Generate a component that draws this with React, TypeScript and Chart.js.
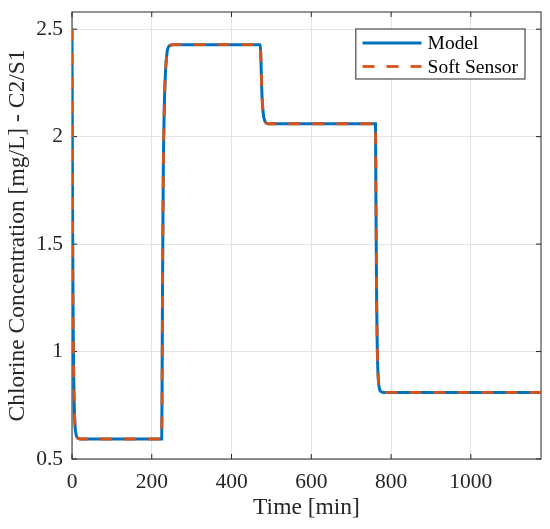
import { useEffect, useRef } from 'react';
import { Chart, registerables } from 'chart.js';

Chart.register(...registerables);

const FONT = '"Liberation Serif", "Times New Roman", serif';
const INK = '#262626';
const BLUE = '#0072BD';
const ORANGE = '#D95319';

// time [min] and chlorine concentration [mg/L]
const timeMin = [
  0, 1, 2, 3, 4, 5, 6.5, 8, 10, 13, 17, 22,
  225, 226, 227, 228, 229, 230, 231, 232, 233, 235, 237, 239, 242, 247, 255,
  472, 473, 474, 475, 476, 477, 478, 480, 483, 487, 492,
  761, 762, 763, 764, 765, 766, 767, 768.5, 770.5, 773, 777, 782,
  1176
];
const modelConc = [
  2.5, 1.85, 1.4, 1.1, 0.92, 0.8, 0.7, 0.645, 0.615, 0.6, 0.595, 0.593,
  0.593, 0.9, 1.3, 1.6, 1.85, 2.0, 2.1, 2.18, 2.24, 2.32, 2.37, 2.4, 2.418, 2.426, 2.428,
  2.428, 2.4, 2.34, 2.27, 2.21, 2.17, 2.14, 2.1, 2.075, 2.063, 2.06,
  2.06, 1.75, 1.45, 1.22, 1.07, 0.97, 0.91, 0.86, 0.83, 0.817, 0.811, 0.81,
  0.81
];
const softSensorConc = [
  2.5, 1.85, 1.4, 1.1, 0.92, 0.8, 0.7, 0.645, 0.615, 0.6, 0.595, 0.593,
  0.593, 0.9, 1.3, 1.6, 1.85, 2.0, 2.1, 2.18, 2.24, 2.32, 2.37, 2.4, 2.418, 2.426, 2.428,
  2.428, 2.4, 2.34, 2.27, 2.21, 2.17, 2.14, 2.1, 2.075, 2.063, 2.06,
  2.06, 1.75, 1.45, 1.22, 1.07, 0.97, 0.91, 0.86, 0.83, 0.817, 0.811, 0.81,
  0.81
];

const seriesLabels = ['Model', 'Soft Sensor'];
const xTicks = [0, 200, 400, 600, 800, 1000];
const yTicks = [0.5, 1, 1.5, 2, 2.5];

// matlab-like box with inward ticks, drawn under the lines
const axesBox = {
  id: 'axesBox',
  beforeDatasetsDraw(chart: any) {
    const { ctx, chartArea, scales } = chart;
    const { left, right, top, bottom } = chartArea;
    ctx.save();
    ctx.strokeStyle = INK;
    ctx.lineWidth = 1;
    ctx.strokeRect(left, top, right - left, bottom - top);
    ctx.beginPath();
    scales.x.ticks.forEach((t: any) => {
      const x = scales.x.getPixelForValue(t.value);
      ctx.moveTo(x, bottom);
      ctx.lineTo(x, bottom - 5);
      ctx.moveTo(x, top);
      ctx.lineTo(x, top + 5);
    });
    scales.y.ticks.forEach((t: any) => {
      const y = scales.y.getPixelForValue(t.value);
      ctx.moveTo(left, y);
      ctx.lineTo(left + 5, y);
      ctx.moveTo(right, y);
      ctx.lineTo(right - 5, y);
    });
    ctx.stroke();
    ctx.restore();
  }
};

// boxed legend in the top right corner
const boxLegend = {
  id: 'boxLegend',
  afterDraw(chart: any) {
    const { ctx, chartArea } = chart;
    const datasets = chart.data.datasets;
    ctx.save();
    ctx.font = `19.5px ${FONT}`;
    const textW = Math.max(...datasets.map((d: any) => ctx.measureText(d.label).width));
    const sample = 59;
    const w = 6.7 + sample + 6 + textW + 7;
    const h = 50;
    const x0 = chartArea.right - 16 - w;
    const y0 = chartArea.top + 17;
    ctx.fillStyle = '#fff';
    ctx.fillRect(x0, y0, w, h);
    ctx.strokeStyle = INK;
    ctx.lineWidth = 1;
    ctx.strokeRect(x0, y0, w, h);
    datasets.forEach((d: any, i: number) => {
      const cy = y0 + 14 + i * 23.5;
      ctx.beginPath();
      ctx.strokeStyle = d.borderColor;
      ctx.lineWidth = d.borderWidth;
      ctx.setLineDash(d.borderDash || []);
      ctx.moveTo(x0 + 6.7, cy);
      ctx.lineTo(x0 + 6.7 + sample, cy);
      ctx.stroke();
      ctx.setLineDash([]);
      ctx.fillStyle = '#000';
      ctx.textBaseline = 'middle';
      ctx.textAlign = 'left';
      ctx.fillText(d.label, x0 + 6.7 + sample + 6, cy + 1);
    });
    ctx.restore();
  }
};

const noPad = (s: any) => {
  s.paddingTop = 0;
  s.paddingBottom = 0;
  s.paddingLeft = 0;
  s.paddingRight = 0;
};

export default function App() {
  const ref = useRef<HTMLCanvasElement | null>(null);

  useEffect(() => {
    if (!ref.current) return;
    Chart.defaults.font.family = FONT;
    const chart = new Chart(ref.current, {
      type: 'line',
      data: {
        datasets: [
          {
            label: seriesLabels[0],
            data: timeMin.map((t, i) => ({ x: t, y: modelConc[i] })),
            borderColor: BLUE,
            borderWidth: 3,
            pointRadius: 0,
            cubicInterpolationMode: 'monotone',
            order: 2
          },
          {
            label: seriesLabels[1],
            data: timeMin.map((t, i) => ({ x: t, y: softSensorConc[i] })),
            borderColor: ORANGE,
            borderWidth: 2.8,
            borderDash: [12, 12],
            pointRadius: 0,
            cubicInterpolationMode: 'monotone',
            order: 1
          }
        ]
      },
      options: {
        animation: false,
        responsive: true,
        maintainAspectRatio: false,
        layout: { padding: { top: 12, right: 9, left: 0, bottom: 0 } },
        plugins: { legend: { display: false }, tooltip: { enabled: false } },
        scales: {
          x: {
            type: 'linear',
            min: 0,
            max: 1176,
            grid: { color: '#e3e3e3', drawTicks: false },
            border: { display: false },
            afterBuildTicks: (s) => { s.ticks = xTicks.map((v) => ({ value: v })); },
            ticks: {
              padding: 10,
              maxRotation: 0,
              autoSkip: false,
              color: INK,
              font: { size: 21.5 },
              callback: (v) => String(v)
            },
            title: {
              display: true,
              text: 'Time [min]',
              color: INK,
              font: { size: 23.5 },
              padding: { top: 7, bottom: 7 }
            },
            afterFit: (s) => { s.height = 70; noPad(s); }
          },
          y: {
            type: 'linear',
            min: 0.5,
            max: 2.58,
            grid: { color: '#e3e3e3', drawTicks: false },
            border: { display: false },
            afterBuildTicks: (s) => { s.ticks = yTicks.map((v) => ({ value: v })); },
            ticks: {
              padding: 9,
              autoSkip: false,
              color: INK,
              font: { size: 21.5 },
              callback: (v) => String(v)
            },
            title: {
              display: true,
              text: 'Chlorine Concentration [mg/L] - C2/S1',
              color: INK,
              font: { size: 23.5 },
              padding: { top: 4, bottom: 4 }
            },
            afterFit: (s) => { s.width = 72; noPad(s); }
          }
        }
      },
      plugins: [axesBox, boxLegend]
    });
    return () => chart.destroy();
  }, []);

  return (
    <div style={{ position: 'fixed', left: 0, top: 0, width: 550, height: 529, background: '#fff' }}>
      <canvas ref={ref} aria-label="Chlorine concentration, model vs soft sensor" />
    </div>
  );
}
